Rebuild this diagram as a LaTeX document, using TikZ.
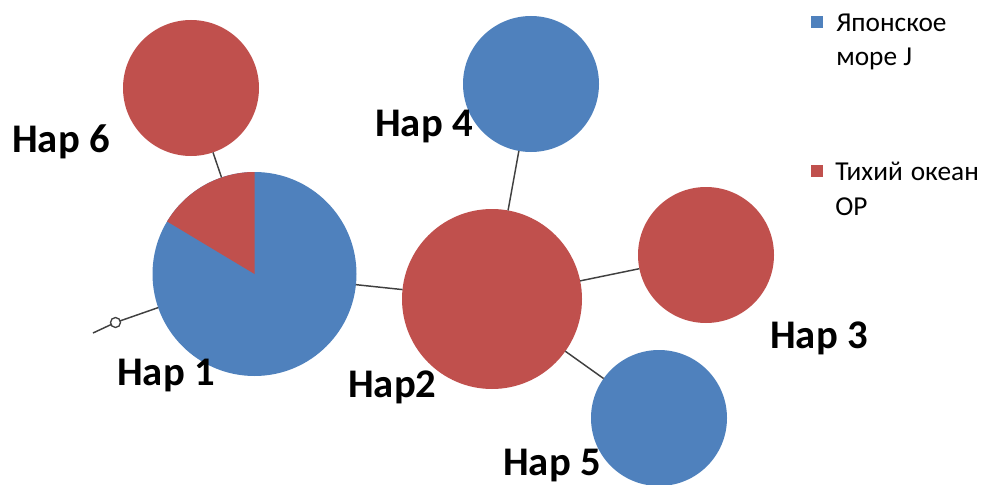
\documentclass[tikz,border=0pt]{standalone}
\usepackage{fontspec}
\setmainfont{Carlito}
\definecolor{hapblue}{HTML}{4F81BD}
\definecolor{hapred}{HTML}{C0504D}
\definecolor{linkgray}{HTML}{404040}
\begin{document}
\begin{tikzpicture}[x=0.75pt,y=-0.75pt,
  hap/.style={circle,inner sep=0pt,outer sep=0pt,draw=none},
  link/.style={draw=linkgray,line width=1.1pt},
  haplabel/.style={anchor=base west,inner sep=0pt,font=\fontsize{30.5}{36}\selectfont\bfseries},
  legtext/.style={anchor=base west,inner sep=0pt,font=\fontsize{20.5}{24}\selectfont},
  legsq/.style={inner sep=0pt,minimum size=9.5pt}]
\useasboundingbox (0,0) rectangle (989,485);
% haplotype circles
\node[hap,fill=hapblue,minimum size=153pt] (h1) at (254.5,274) {};
\fill[hapred] (h1.center) -- ++(90:76.5pt) arc[start angle=90,end angle=149,radius=76.5pt] -- cycle;
\node[hap,fill=hapred,minimum size=135pt] (h2) at (492,299) {};
\node[hap,fill=hapred,minimum size=102pt] (h3) at (706,255) {};
\node[hap,fill=hapblue,minimum size=102pt] (h4) at (531,84) {};
\node[hap,fill=hapblue,minimum size=102pt] (h5) at (659,418) {};
\node[hap,fill=hapred,minimum size=102pt] (h6) at (191,88) {};
\node[circle,inner sep=0pt,outer sep=0pt,minimum size=7.5pt,draw=linkgray,line width=1pt,fill=white] (m) at (115.5,322.5) {};
\coordinate (e) at (93,333);
% connectors
\draw[link] (h6) -- (h1);
\draw[link] (h1) -- (h2);
\draw[link] (h4) -- (h2);
\draw[link] (h2) -- (h3);
\draw[link] (h2) -- (h5);
\draw[link] (h1) -- (m);
\draw[link] (m) -- (e);
% labels
\node[haplabel] (l6) at (12,152) {Hap 6};
\node[haplabel] (l4) at (375,137) {Hap 4};
\node[haplabel] (l1) at (117,385) {Hap 1};
\node[haplabel] (l2) at (348,397) {Hap2};
\node[haplabel] (l3) at (770,348) {Hap 3};
\node[haplabel] (l5) at (503,475) {Hap 5};
% legend
\node[legsq,fill=hapblue] (sqJ) at (817,22) {};
\node[legtext] (tJ1) at (836,32) {Японское};
\node[legtext] (tJ2) at (836,65) {море J};
\node[legsq,fill=hapred] (sqO) at (817,171) {};
\node[legtext] (tO1) at (835,180) {Тихий\hspace{6pt}океан};
\node[legtext] (tO2) at (835,215) {OP};
\end{tikzpicture}
\end{document}
